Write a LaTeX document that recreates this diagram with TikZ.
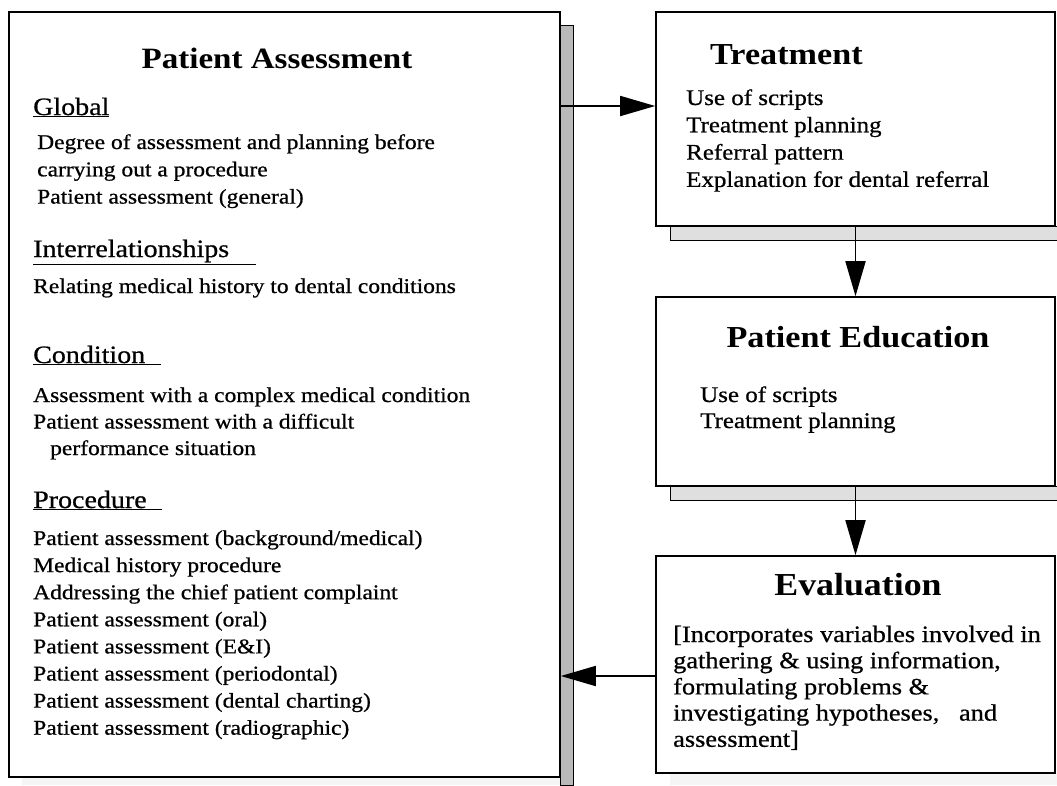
\documentclass[tikz,border=0pt]{standalone}
\usepackage{fontspec}
\setmainfont{Liberation Serif}[FakeStretch=1.12,UprightFeatures={FakeBold=0.7}]
\usetikzlibrary{positioning,arrows.meta}

\begin{document}
\begin{tikzpicture}[x=1pt,y=-1pt,
    box/.style={draw,line width=1.6pt,fill=white,inner sep=0pt},
    shade/.style={draw,line width=0.6pt,fill=gray!55},
    pale/.style={draw,line width=0.6pt,fill=gray!25},
    title/.style={anchor=base,inner sep=0pt,font=\fontsize{30.5}{32}\selectfont\bfseries},
    head/.style={anchor=base west,inner sep=0pt,font=\fontsize{25}{28}\selectfont},
    item/.style={anchor=base west,inner sep=0pt,font=\fontsize{21}{26}\selectfont},
    ritem/.style={item,font=\fontsize{22.3}{26}\selectfont},
    eitem/.style={item,font=\fontsize{23.5}{26}\selectfont},
    flow/.style={line width=1.8pt,-{Triangle[length=35pt,width=20pt]}}]
  \useasboundingbox (0,0) rectangle (1057,785);

  % shadows
  \draw[shade] (560,25) rectangle (573,785);
  \fill[gray!8] (22,777) rectangle (560,785);
  \draw[pale] (670,226) rectangle (1057,240);
  \draw[pale] (670,486) rectangle (1057,500);
  \fill[gray!8] (670,773) rectangle (1057,785);

  % boxes
  \node[box,minimum width=551pt,minimum height=765pt] (pa) at (284.5,394.5) {};
  \node[box,minimum width=399pt,minimum height=214pt] (tr) at (855.5,119) {};
  \node[box,minimum width=399pt,minimum height=189pt] (ed) at (855.5,391.5) {};
  \node[box,minimum width=399pt,minimum height=217pt] (ev) at (855.5,664.5) {};

  % patient assessment
  \node[title,font=\fontsize{29.5}{32}\selectfont\bfseries] (patitle) at (277,68) {Patient Assessment};
  \node[head] (global) at (33,115) {\underline{Global}};
  \foreach \t [count=\i from 0] in {Degree of assessment and planning before,
      carrying out a procedure, Patient assessment (general)}
    \node[item] (gl\i) at (37,149+27.3*\i) {\t};
  \node[head] (inter) at (33,257) {\underline{Interrelationships\hspace{27pt}}};
  \node[item] (in0) at (33,293) {Relating medical history to dental conditions};
  \node[head] (cond) at (33,363) {\underline{Condition\hspace{16pt}}};
  \node[item] (co0) at (33,402) {Assessment with a complex medical condition};
  \node[item] (co1) at (33,428.5) {Patient assessment with a difficult};
  \node[item] (co2) at (50,455) {performance situation};
  \node[head] (proc) at (33,508) {\underline{Procedure\hspace{15pt}}};
  \foreach \t [count=\i from 0] in {Patient assessment (background/medical),
      Medical history procedure, Addressing the chief patient complaint,
      Patient assessment (oral), Patient assessment (E\&I),
      Patient assessment (periodontal), Patient assessment (dental charting),
      Patient assessment (radiographic)}
    \node[item] (pr\i) at (33,545+27.1*\i) {\t};

  % treatment
  \node[title,anchor=base west] (trtitle) at (710,64) {Treatment};
  \foreach \t [count=\i from 0] in {Use of scripts, Treatment planning,
      Referral pattern, Explanation for dental referral}
    \node[ritem] (tr\i) at (686,105+27.3*\i) {\t};

  % patient education
  \node[title] (edtitle) at (858,347) {Patient Education};
  \node[ritem] (ed0) at (700,402) {Use of scripts};
  \node[ritem] (ed1) at (700,428) {Treatment planning};

  % evaluation
  \node[title,font=\fontsize{32}{34}\selectfont\bfseries] (evtitle) at (858,595) {Evaluation};
  \foreach \t [count=\i from 0] in {[Incorporates variables involved in,
      gathering \& using information{,}, formulating problems \&,
      {investigating hypotheses,\ \ \ and}, assessment]}
    \node[eitem] (ev\i) at (673,642+26.2*\i) {\t};

  % connectors
  \draw[flow] ([yshift=13pt]tr.west -| pa.east) -- ([yshift=13pt]tr.west);
  \draw[flow] (tr.south) -- (ed.north);
  \draw[flow] (ed.south) -- (ev.north);
  \draw[flow] ([yshift=-11.5pt]ev.west) -- ([yshift=-11.5pt]ev.west -| pa.east);
\end{tikzpicture}
\end{document}
